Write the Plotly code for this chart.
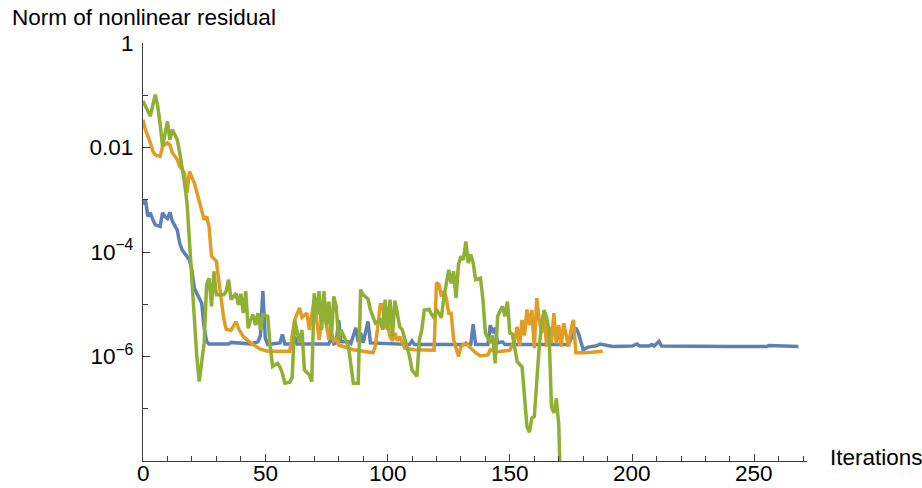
import plotly.graph_objects as go

# ---- data (iteration, log10 of residual norm) ----
blue_iter = [0, 1, 2, 3, 4, 5, 7, 8, 9, 10, 11, 12, 14, 15, 16, 18, 19, 20, 21, 22, 24, 25, 26, 27,
             35, 36, 44, 47, 48, 49, 50, 51, 56, 57, 58, 61, 62, 63, 76, 77, 78, 79, 80, 81, 84, 85,
             87, 88, 89, 90, 92, 93, 109, 110, 111, 134, 135, 136, 141, 142, 143, 144, 145, 147, 148,
             174, 176, 177, 178, 180, 182, 185, 187, 190, 192, 200, 202, 203, 207, 208, 209, 211, 212,
             240, 255, 256, 268]
blue_log10 = [-3.09, -3.00, -3.32, -3.25, -3.38, -3.48, -3.51, -3.25, -3.32, -3.36, -3.24, -3.41,
              -3.58, -3.83, -3.96, -4.08, -4.15, -4.35, -4.69, -4.79, -4.98, -5.45, -5.71, -5.76,
              -5.76, -5.73, -5.76, -5.72, -5.60, -4.75, -5.65, -5.77, -5.74, -5.58, -5.76, -5.76,
              -5.62, -5.76, -5.76, -5.64, -5.76, -5.74, -5.30, -5.72, -5.72, -5.75, -5.45, -5.72,
              -5.55, -5.74, -5.33, -5.74, -5.77, -5.70, -5.77, -5.77, -5.38, -5.77, -5.77, -5.40,
              -5.55, -5.45, -5.74, -5.72, -5.77, -5.77, -5.55, -5.45, -5.55, -5.87, -5.82, -5.80,
              -5.76, -5.80, -5.81, -5.80, -5.76, -5.80, -5.80, -5.77, -5.80, -5.71, -5.80, -5.81,
              -5.81, -5.79, -5.81]

orange_iter = [0, 1, 3, 4, 5, 7, 8, 10, 11, 12, 14, 15, 16, 17, 18, 19, 21, 22, 23, 25, 26, 27, 28,
               30, 31, 32, 33, 34, 36, 38, 39, 41, 44, 48, 51, 60, 62, 64, 65, 67, 68, 70, 71, 72,
               73, 74, 76, 77, 78, 79, 80, 82, 86, 94, 95, 96, 97, 98, 99, 100, 101, 102, 103, 104,
               105, 107, 111, 119, 120, 121, 122, 123, 124, 125, 126, 127, 129, 130, 132, 134, 136,
               138, 141, 142, 145, 150, 152, 153, 154, 155, 156, 157, 158, 159, 160, 161, 162, 163,
               164, 165, 166, 167, 168, 169, 170, 171, 172, 174, 175, 176, 177, 181, 188]
orange_log10 = [-1.47, -1.66, -1.91, -2.07, -2.14, -2.17, -1.98, -1.91, -1.95, -2.10, -2.23, -2.36,
                -2.42, -2.50, -2.87, -2.46, -2.68, -2.87, -3.06, -3.38, -3.32, -3.51, -4.08, -4.18,
                -4.55, -4.95, -5.27, -5.48, -5.50, -5.33, -5.46, -5.62, -5.74, -5.86, -5.90, -5.90,
                -5.30, -5.07, -5.25, -5.17, -5.49, -4.91, -5.36, -5.68, -5.36, -5.11, -5.68, -5.55,
                -5.70, -5.66, -5.78, -5.81, -5.87, -5.93, -5.80, -5.43, -5.01, -5.01, -5.43, -5.40,
                -5.62, -5.70, -5.55, -5.70, -5.62, -5.84, -5.87, -5.88, -4.59, -4.62, -4.85, -4.75,
                -4.88, -5.17, -5.17, -5.68, -6.00, -5.81, -5.74, -5.84, -5.93, -5.99, -5.97, -5.87,
                -5.91, -5.88, -5.68, -5.43, -5.80, -5.30, -5.60, -5.10, -5.40, -5.11, -5.84, -4.88,
                -5.30, -5.55, -5.14, -5.81, -5.43, -5.75, -5.17, -5.75, -5.40, -5.81, -5.36, -5.81,
                -5.49, -5.30, -5.93, -5.93, -5.90]

green_iter = [0, 1, 3, 5, 6, 7, 8, 10, 11, 12, 13, 14, 15, 16, 17, 18, 19, 20, 21, 22, 23, 25, 26,
              27, 28, 29, 30, 33, 34, 35, 36, 38, 39, 40, 41, 42, 43, 44, 45, 46, 47, 48, 49, 51,
              52, 53, 55, 56, 57, 58, 60, 61, 62, 64, 65, 66, 68, 69, 70, 71, 72, 73, 74, 75, 76,
              77, 78, 79, 80, 81, 84, 85, 86, 88, 89, 90, 92, 93, 94, 95, 97, 98, 99, 100, 101,
              102, 103, 105, 106, 108, 109, 110, 112, 113, 114, 115, 117, 118, 119, 120, 122, 123,
              125, 126, 127, 128, 129, 130, 131, 132, 133, 134, 135, 136, 138, 139, 140, 142, 143,
              144, 145, 147, 148, 149, 150, 151, 153, 155, 156, 157, 158, 159, 160, 161, 162, 163,
              164, 165, 166, 167, 168, 169, 170, 171]
green_log10 = [-1.11, -1.21, -1.40, -0.99, -1.20, -1.55, -1.98, -1.50, -1.85, -1.66, -1.75, -1.85,
               -2.10, -2.36, -2.68, -3.06, -3.80, -4.60, -5.30, -6.00, -6.48, -5.74, -4.63, -4.50,
               -5.04, -4.37, -4.82, -4.82, -4.75, -4.53, -4.91, -4.79, -5.01, -4.80, -5.17, -4.75,
               -5.46, -5.30, -5.20, -5.40, -5.17, -5.49, -5.20, -5.23, -5.81, -6.19, -6.13, -6.20,
               -6.32, -6.51, -6.49, -6.40, -5.30, -5.74, -5.49, -6.26, -6.35, -6.48, -4.79, -5.20,
               -4.75, -5.49, -4.75, -5.40, -4.95, -5.68, -4.85, -5.04, -5.68, -5.49, -5.81, -6.13,
               -6.51, -6.51, -4.72, -4.82, -4.90, -5.11, -5.26, -5.36, -5.30, -5.49, -4.91, -5.49,
               -4.91, -5.62, -4.93, -5.43, -5.49, -5.87, -6.00, -6.26, -6.38, -5.68, -5.49, -5.11,
               -5.10, -5.20, -5.26, -5.10, -5.26, -4.88, -4.34, -4.60, -4.37, -4.88, -4.24, -4.08,
               -4.15, -3.80, -4.21, -4.05, -4.21, -4.53, -4.50, -4.91, -5.55, -5.74, -5.60, -6.13,
               -5.23, -5.04, -5.23, -4.95, -5.55, -5.57, -6.10, -6.20, -6.77, -7.34, -7.45, -7.18,
               -7.15, -6.42, -5.81, -5.40, -5.11, -5.25, -5.49, -6.96, -7.08, -6.80, -7.30, -9.00]

series_names = ["blue", "orange", "green"]
series_colors = ["#5E81B5", "#E19C24", "#8FB032"]

y_tick_vals = [1, 1e-2, 1e-4, 1e-6]
y_tick_text = ["1", "0.01", "10<sup>\u22124</sup>", "10<sup>\u22126</sup>"]
y_minor_vals = [1e-1, 1e-3, 1e-5, 1e-7]
x_tick_vals = [0, 50, 100, 150, 200, 250]
x_tick_text = ["0", "50", "100", "150", "200", "250"]

FONT = "Liberation Sans, Arial, Helvetica, sans-serif"
FS = 22.5

fig = go.Figure()
for name, color, xs, ls in zip(series_names, series_colors,
                               [blue_iter, orange_iter, green_iter],
                               [blue_log10, orange_log10, green_log10]):
    fig.add_trace(go.Scatter(x=xs, y=[10 ** v for v in ls], mode="lines", name=name,
                             line=dict(color=color, width=3.5), showlegend=False,
                             hoverinfo="skip"))

axis_color = "#3c3c3c"
annotations = [
    dict(text="Norm of nonlinear residual", xref="paper", yref="paper",
         x=(10 - 143) / 664, y=(461 - 17) / 418, xanchor="left", yanchor="middle",
         showarrow=False, font=dict(size=FS)),
    dict(text="Iterations", xref="paper", yref="paper",
         x=(828 - 143) / 664, y=(461 - 457) / 418, xanchor="left", yanchor="middle",
         showarrow=False, font=dict(size=FS)),
]
# x tick labels placed just below the axis (positions via the x axis scale)
for v, t in zip(x_tick_vals, x_tick_text):
    annotations.append(dict(text=t, xref="x", yref="paper", x=v, y=(461 - 473.5) / 418,
                            xanchor="center", yanchor="middle", showarrow=False,
                            font=dict(size=FS)))

fig.update_layout(
    width=922, height=488,
    margin=dict(l=143, r=115, t=43, b=27),
    paper_bgcolor="white", plot_bgcolor="white",
    font=dict(family=FONT, size=FS, color="black"),
    xaxis=dict(range=[0, 271.5], showgrid=False, zeroline=False, showline=True, automargin=False,
               linecolor=axis_color, linewidth=1.2, ticks="inside", ticklen=7, tickwidth=1.2,
               tickcolor=axis_color, tickvals=x_tick_vals, showticklabels=False,
               minor=dict(dtick=10, ticks="inside", ticklen=4.5, tickwidth=1, tickcolor=axis_color,
                          showgrid=False)),
    yaxis=dict(type="log", range=[-8, 0], showgrid=False, zeroline=False, showline=True,
               automargin=False,
               linecolor=axis_color, linewidth=1.2, ticks="inside", ticklen=7, tickwidth=1.2,
               tickcolor=axis_color, tickvals=y_tick_vals, ticktext=y_tick_text,
               minor=dict(tickvals=y_minor_vals, ticks="inside", ticklen=4.5, tickwidth=1,
                          tickcolor=axis_color, showgrid=False),
               ticklabelstandoff=4, tickfont=dict(size=FS)),
    annotations=annotations,
)

fig.write_html("out.html", config={"displayModeBar": False},
               post_script="document.body.style.margin='0px';")
